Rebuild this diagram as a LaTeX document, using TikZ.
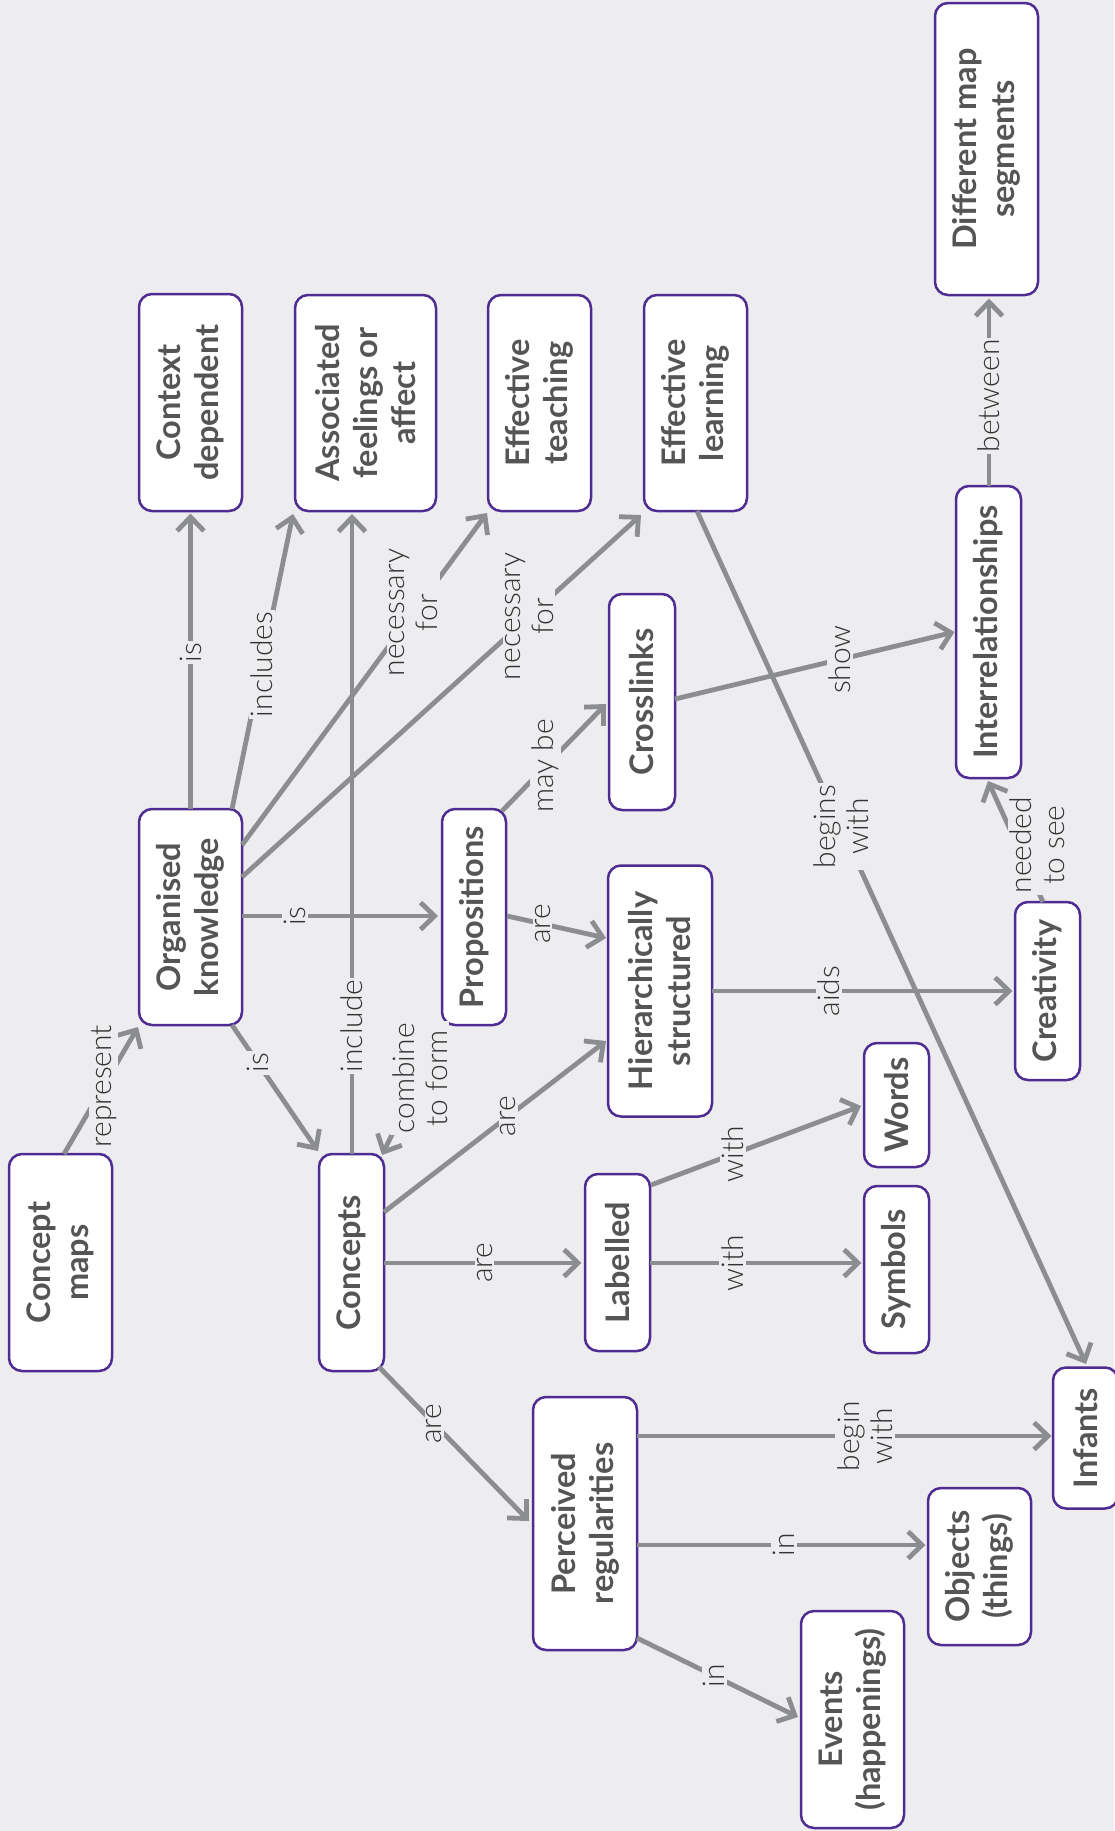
\documentclass[tikz,border=0pt]{standalone}
\usepackage{fontspec}
\setmainfont{Lato}
\newfontfamily\lightfont{Lato Light}
\usetikzlibrary{arrows.meta,calc}
\definecolor{bg}{HTML}{EDEDF0}
\definecolor{pur}{HTML}{4E2C92}
\definecolor{ln}{HTML}{8C8D90}
\definecolor{txt}{HTML}{555555}
\definecolor{ltxt}{HTML}{333333}
\newcommand{\nodefnt}{\fontsize{32.5}{38}\selectfont\bfseries}
\newcommand{\lblfnt}{\lightfont\fontsize{30}{33}\selectfont}
\begin{document}
\begin{tikzpicture}[x=1pt,y=-1pt,
  box/.style={draw=pur, line width=2.5pt, fill=white, rounded corners=13pt,
    rotate=90, inner sep=0pt, align=center, text=txt, font=\nodefnt},
  conn/.style={draw=ln, line width=4.8pt, -{Straight Barb[length=14pt,width=27pt]}},
  lbl/.style={rotate=90, fill=bg, inner sep=2pt, text=ltxt, font=\lblfnt, align=center}]
\fill[bg] (0,0) rectangle (1114,1831);
\useasboundingbox (0,0) rectangle (1114,1831);

% nodes (minimum width = vertical extent, minimum height = horizontal extent)
\node[box, minimum width=217pt, minimum height=103pt] (cm) at (60.5,1262.5) {Concept\\maps};
\node[box, minimum width=216pt, minimum height=103pt] (ok) at (190.5,917) {Organised\\knowledge};
\node[box, minimum width=217pt, minimum height=103pt] (ctx) at (190.5,402.5) {Context\\dependent};
\node[box, minimum width=216pt, minimum height=141pt] (aff) at (365.5,403) {Associated\\feelings or\\affect};
\node[box, minimum width=216pt, minimum height=103pt] (et) at (539.5,403) {Effective\\teaching};
\node[box, minimum width=216pt, minimum height=103pt] (el) at (695.5,403) {Effective\\learning};
\node[box, minimum width=292pt, minimum height=103pt] (dms) at (986.5,149) {Different map\\segments};
\node[box, minimum width=292pt, minimum height=65pt] (ir) at (988.5,632) {Interrelationships};
\node[box, minimum width=216pt, minimum height=66pt] (cl) at (642,702) {Crosslinks};
\node[box, minimum width=216pt, minimum height=64pt] (prop) at (474,917) {Propositions};
\node[box, minimum width=251pt, minimum height=104pt] (hier) at (660,991) {Hierarchically\\structured};
\node[box, minimum width=178pt, minimum height=65pt] (cr) at (1047.5,991) {Creativity};
\node[box, minimum width=217pt, minimum height=65pt] (con) at (351.5,1262.5) {Concepts};
\node[box, minimum width=177pt, minimum height=65pt] (lab) at (617.5,1262.5) {Labelled};
\node[box, minimum width=124pt, minimum height=65pt] (words) at (896.5,1105) {Words};
\node[box, minimum width=167pt, minimum height=65pt] (sym) at (896.5,1269.5) {Symbols};
\node[box, minimum width=253pt, minimum height=104pt] (pr) at (585,1523.5) {Perceived\\regularities};
\node[box, minimum width=217pt, minimum height=103pt] (ev) at (852.5,1719.5) {Events\\(happenings)};
\node[box, minimum width=157pt, minimum height=103pt] (obj) at (979.5,1566.5) {Objects\\(things)};
\node[box, minimum width=141pt, minimum height=65pt] (inf) at (1085.5,1438) {Infants};

% connectors
\draw[conn] ([shift={(3.5,-108.5)}]cm.center) -- node[lbl,pos=.535]{represent} ([shift={(-52.5,110)}]ok.center);
\draw[conn] ([shift={(0,-108)}]ok.center) -- node[lbl,pos=.53]{is} ([shift={(0,111)}]ctx.center);
\draw[conn] ([shift={(41.5,-108)}]ok.center) -- node[lbl,pos=.49]{includes} ([shift={(-72.5,111)}]aff.center);
\draw[conn] ([shift={(0.5,-108.5)}]con.center) -- node[lbl,pos=.2]{include} ([shift={(-13.5,111)}]aff.center);
\draw[conn] ([shift={(51.5,-72)}]ok.center) -- node[lbl,pos=.70]{necessary\\for} ([shift={(-52.5,110)}]et.center);
\draw[conn] ([shift={(51.5,-40)}]ok.center) -- node[lbl,pos=.72]{necessary\\for} ([shift={(-54.5,112)}]el.center);
\draw[conn] ([shift={(51.5,-1)}]ok.center) -- node[lbl,pos=.27]{is} ([shift={(-36,-1)}]prop.center);
\draw[conn] ([shift={(41.5,108)}]ok.center) -- node[lbl,pos=.30]{is} ([shift={(-33.5,-111.5)}]con.center);
\draw[conn] ([shift={(28,-106)}]prop.center) -- node[lbl,pos=.42]{may be} ([shift={(-36,2)}]cl.center);
\draw[conn] ([shift={(33,-1)}]prop.center) -- node[lbl,pos=.36]{are} ([shift={(-54,-53)}]hier.center);
\draw[conn] ([shift={(-28,108)}]prop.center) -- node[lbl,pos=.41]{combine\\to form} ([shift={(30.5,-107.5)}]con.center);
\draw[conn] ([shift={(32.5,-50.5)}]con.center) -- node[lbl,pos=.56]{are} ([shift={(-54,50)}]hier.center);
\draw[conn] ([shift={(32.5,0.5)}]con.center) -- node[lbl,pos=.51]{are} ([shift={(-36,0.5)}]lab.center);
\draw[conn] ([shift={(27.5,104.5)}]con.center) -- node[lbl,pos=.37]{are} ([shift={(-56,-2.5)}]pr.center);
\draw[conn] ([shift={(33,-3)}]cl.center) -- node[lbl,pos=.59]{show} ([shift={(-34,0)}]ir.center);
\draw[conn] ([shift={(1.5,108)}]el.center) -- node[lbl,pos=.37]{begins\\with} ([shift={(0.5,-74)}]inf.center);
\draw[conn] ([shift={(52,0)}]hier.center) -- node[lbl,pos=.39]{aids} ([shift={(-35,0)}]cr.center);
\draw[conn] ([shift={(-4.5,-89)}]cr.center) -- node[lbl,pos=.47,anchor=north,yshift=12pt]{needed\\to see} ([shift={(-0.5,149)}]ir.center);
\draw[conn] ([shift={(0.5,-146)}]ir.center) -- node[lbl,pos=.48]{between} ([shift={(2.5,149.5)}]dms.center);
\draw[conn] ([shift={(33.5,-77.5)}]lab.center) -- node[lbl,pos=.39]{with} ([shift={(-35.5,1)}]words.center);
\draw[conn] ([shift={(32.5,0.5)}]lab.center) -- node[lbl,pos=.39]{with} ([shift={(-35,-6.5)}]sym.center);
\draw[conn] ([shift={(52,-87.5)}]pr.center) -- node[lbl,pos=.55]{begin\\with} ([shift={(-34,-2)}]inf.center);
\draw[conn] ([shift={(52,21.5)}]pr.center) -- node[lbl,pos=.51]{in} ([shift={(-54,-21.5)}]obj.center);
\draw[conn] ([shift={(52,114.5)}]pr.center) -- node[lbl,pos=.48]{in} ([shift={(-54.5,-2.5)}]ev.center);
\end{tikzpicture}
\end{document}
